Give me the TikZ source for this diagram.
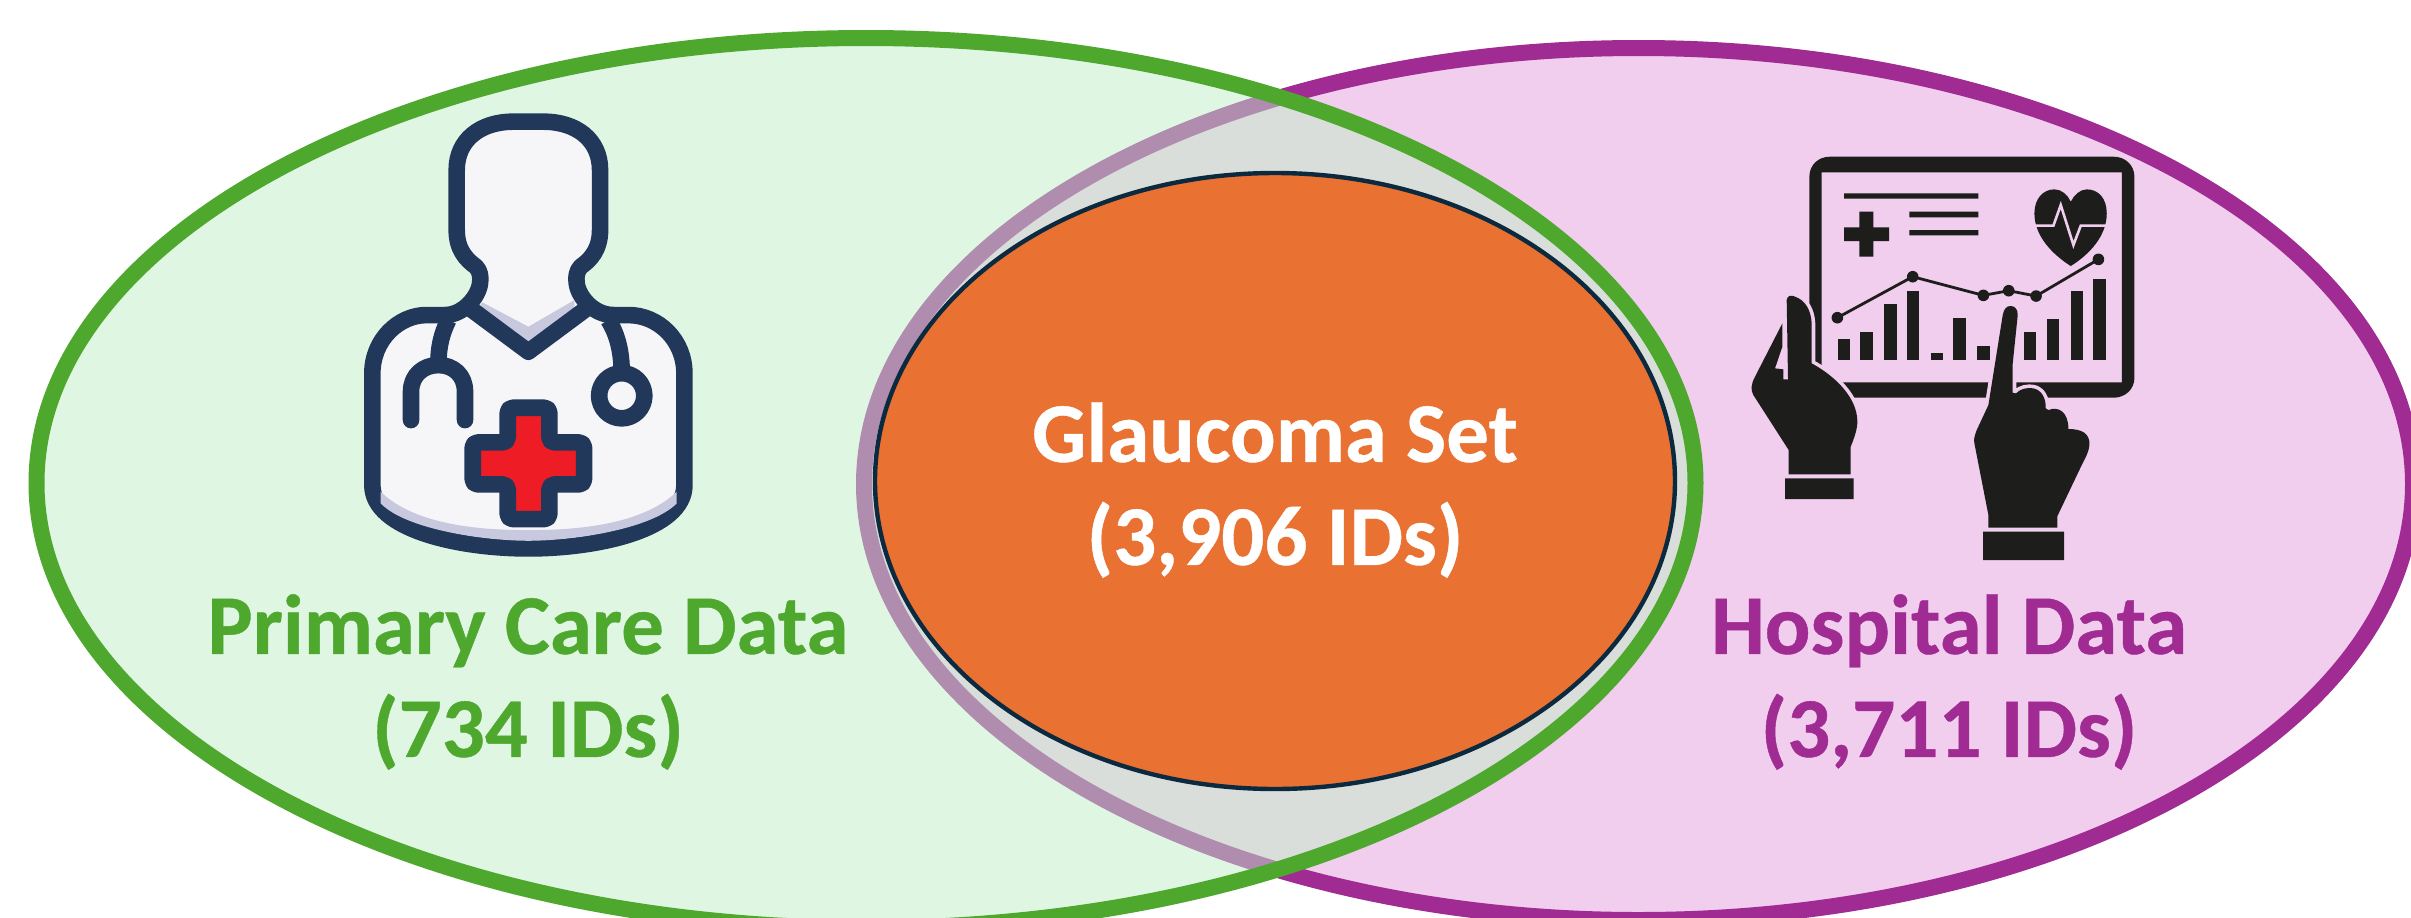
\documentclass[tikz,border=0pt]{standalone}
\usepackage{fontspec}
\setmainfont{Carlito}[BoldFeatures={FakeBold=0.5}]
\definecolor{gline}{HTML}{4FA82E}
\definecolor{gfill}{HTML}{DFF6E3}
\definecolor{pline}{HTML}{A02B93}
\definecolor{pfill}{HTML}{F1CDEE}
\definecolor{over}{HTML}{DADEDB}
\definecolor{mute}{HTML}{B08CAE}
\definecolor{orng}{HTML}{E97132}
\definecolor{onav}{HTML}{0B2A3F}
\definecolor{navy}{HTML}{22385A}
\definecolor{paper}{HTML}{F6F6F9}
\definecolor{lav}{HTML}{C8C8DF}
\definecolor{crss}{HTML}{EE1C25}
\definecolor{ink}{HTML}{1D1D1B}
\tikzset{
  label text/.style={font=\bfseries\fontsize{42.5}{51.5}\selectfont,align=center,inner sep=0pt},
  doc line/.style={draw=navy,line width=8.3pt,line join=round,line cap=round},
  ink fill/.style={fill=ink,draw=none},
  halo/.style={draw=pfill,line width=3.6pt,line join=round},
  ring line/.style={line width=8pt},
}
\begin{document}
\begin{tikzpicture}[x=0.5pt,y=-0.5pt]
\useasboundingbox (0,0) rectangle (2411,917);
\clip (0,0) rectangle (2411,917);
% purple set
\path[fill=pfill,draw=pline,ring line] (1638.5,484) ellipse [x radius=387.25pt,y radius=218pt];
% green set
\path[fill=gfill] (866,483) ellipse [x radius=414.75pt,y radius=222.5pt];
\begin{scope}
 \clip (866,483) ellipse [x radius=414.75pt,y radius=222.5pt];
 \path[fill=over,draw=mute,ring line] (1638.5,484) ellipse [x radius=387.25pt,y radius=218pt];
\end{scope}
\path[draw=gline,ring line] (866,483) ellipse [x radius=414.75pt,y radius=222.5pt];
% glaucoma set
\path[fill=orng,draw=onav,line width=2.2pt] (1275,481) ellipse [x radius=200pt,y radius=154pt];
\node[label text,text=white] (glau) at (1275,490) {Glaucoma Set\\(3,906 IDs)};
\node[label text,text=gline] (prim) at (528,682) {Primary Care Data\\(734 IDs)};
\node[label text,text=pline] (hosp) at (1949,682) {Hospital Data\\(3,711 IDs)};
% doctor
\begin{scope}[shift={(330,90)},x=0.1667pt,y=-0.1667pt]
 \path[doc line,fill=paper] (450,580) .. controls (453,560) and (450,543) .. (438,530) .. controls (410,510) and (380,480) .. (380,420) -- (380,240)
  .. controls (380,150) and (450,95) .. (550,95) -- (640,95)
  .. controls (740,95) and (810,150) .. (810,240) -- (810,420)
  .. controls (810,480) and (780,510) .. (752,530) .. controls (740,543) and (737,560) .. (740,580)
  .. controls (745,620) and (790,675) .. (850,675) -- (895,675)
  .. controls (985,675) and (1063,750) .. (1063,850) -- (1063,1185)
  .. controls (1063,1320) and (800,1375) .. (595,1375)
  .. controls (390,1375) and (127,1320) .. (127,1185) -- (127,850)
  .. controls (127,750) and (205,675) .. (290,675) -- (345,675)
  .. controls (400,675) and (445,620) .. (450,580) -- cycle;
 \path[fill=lav] (457,637) -- (595,710) -- (733,630) -- (733,655) -- (595,770) -- (445,655) -- cycle;
 \path[fill=lav] (152,1205) .. controls (260,1310) and (470,1320) .. (595,1320)
   .. controls (720,1320) and (930,1310) .. (1040,1205) -- (1040,1240) .. controls (960,1320) and (720,1352) .. (595,1352)
   .. controls (470,1352) and (230,1320) .. (152,1240) -- cycle;
 \path[doc line] (420,655) -- (595,785) -- (770,655);
 \path[doc line,line cap=butt] (355,690) .. controls (335,730) and (325,770) .. (325,825);
 \path[doc line] (243,990) -- (243,905) .. controls (243,855) and (280,825) .. (325,825) .. controls (370,825) and (405,855) .. (405,905) -- (405,990);
 \path[doc line,line cap=butt] (835,690) .. controls (860,730) and (875,780) .. (875,850);
 \path[doc line,fill=paper] (875,917) circle [radius=11.3pt];
 \path[doc line,fill=crss,line width=8.3pt,rounded corners=2.5pt] (533,953) -- (658,953) -- (658,1057) -- (762,1057) -- (762,1183) -- (658,1183) -- (658,1287) -- (533,1287) -- (533,1183) -- (428,1183) -- (428,1057) -- (533,1057) -- cycle;
\end{scope}
% tablet
\begin{scope}[shift={(1720,130)},x=0.1667pt,y=-0.1667pt]
 \path[ink fill,even odd rule] (268,140) .. controls (268,105) and (295,80) .. (330,80) -- (1180,80) .. controls (1215,80) and (1243,105) .. (1243,140) -- (1243,743) .. controls (1243,778) and (1215,803) .. (1180,803) -- (330,803) .. controls (295,803) and (268,778) .. (268,743) -- cycle
   (305,127) rectangle (1205,757);
 \path[ink fill] (372,190) rectangle (775,206) (568,245) rectangle (775,262) (568,300) rectangle (775,316);
 \path[ink fill] (418,245) rectangle (460,380) (372,292) rectangle (507,333);
 \path[ink fill] (1052,408) .. controls (1000,375) and (943,320) .. (943,250) .. controls (943,205) and (970,178) .. (1003,178) .. controls (1025,178) and (1043,195) .. (1052,215) .. controls (1062,195) and (1080,178) .. (1100,178) .. controls (1135,178) and (1160,205) .. (1160,250) .. controls (1160,320) and (1105,375) .. (1052,408) -- cycle;
 \draw[draw=pfill,line width=1.3pt,line join=miter] (940,287) -- (1000,287) -- (1022,225) -- (1060,345) -- (1082,287) -- (1165,287);
 \draw[draw=ink,line width=1.4pt] (352,563) -- (578,440) -- (790,496) -- (866,482) -- (948,498) -- (1135,388);
 \foreach \px/\py in {352/563,578/440,790/496,866/482,948/498,1135/388} \path[ink fill] (\px,\py) circle [radius=2.9pt];
 \foreach \xa/\xb/\yt in {353/390/627,421/458/606,493/530/521,561/598/482,632/669/668,700/737/564,772/809/648,911/948/606,980/1017/568,1052/1089/482,1120/1157/447}
  \path[ink fill] (\xa,\yt) rectangle (\xb,690);
\end{scope}
% hands
\begin{scope}[shift={(1720,280)},x=0.1667pt,y=-0.1667pt]
 \def\lefthand{(200,60) .. controls (202,45) and (215,45) .. (225,50) .. controls (255,60) and (273,90) .. (275,130) -- (275,250) .. controls (340,285) and (412,350) .. (412,425) .. controls (412,450) and (400,480) .. (392,500) -- (392,583) -- (206,583) -- (206,510) -- (100,345) .. controls (92,330) and (92,315) .. (105,290) -- (187,130) -- (187,200) -- (165,265) -- (190,268) -- (190,298) -- (204,298) -- cycle}
 \def\righthand{(848,105) .. controls (852,85) and (860,78) .. (872,78) .. controls (885,78) and (893,88) .. (893,105) -- (878,250) -- (878,338) -- (888,340) .. controls (900,325) and (925,322) .. (940,325) .. controls (965,330) and (978,355) .. (977,385) -- (985,390) .. controls (1015,378) and (1045,395) .. (1045,447) .. controls (1085,447) and (1110,460) .. (1108,495) .. controls (1105,520) and (1095,535) .. (1085,555) -- (1012,708) -- (1012,743) -- (805,743) -- (805,705) -- (763,490) .. controls (760,475) and (765,465) .. (770,450) -- (805,375) -- cycle}
 \path[halo] \lefthand;
 \path[halo] \righthand;
 \path[ink fill] \lefthand;
 \path[ink fill] \righthand;
 \path[ink fill] (195,595) rectangle (401,657) (789,755) rectangle (1032,840);
\end{scope}
\end{tikzpicture}
\end{document}
